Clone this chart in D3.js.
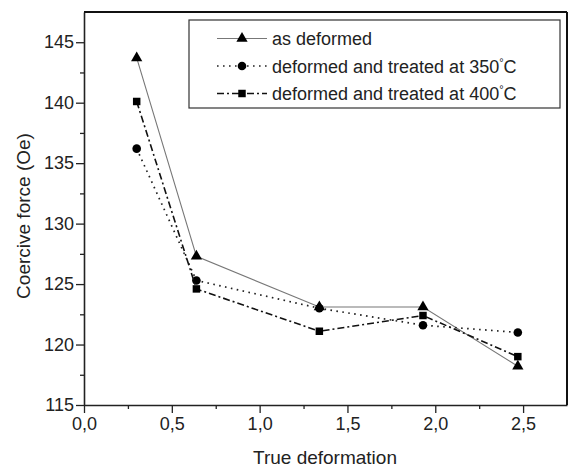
<!DOCTYPE html>
<html>
<head>
<meta charset="utf-8">
<script src="https://cdn.jsdelivr.net/npm/d3@7"></script>
<style>
  body { margin: 0; background: #fff; }
  svg { display: block; }
</style>
</head>
<body>
<div id="vis"></div>
<script>
const FRAME_WIDTH = 569;
const FRAME_HEIGHT = 468;
const MARGINS = {left: 84, right: 2, top: 12, bottom: 63};
const VIS_WIDTH = FRAME_WIDTH - MARGINS.left - MARGINS.right;
const VIS_HEIGHT = FRAME_HEIGHT - MARGINS.top - MARGINS.bottom;
const FONT = "'Liberation Sans', Arial, sans-serif";

// data
const deformation = [0.30, 0.64, 1.34, 1.93, 2.47];
const asDeformed = [143.7, 127.3, 123.1, 123.1, 118.2];
const treated350 = [136.2, 125.3, 123.0, 121.6, 121.0];
const treated400 = [140.1, 124.6, 121.1, 122.4, 119.0];
const seriesNames = ["as deformed", "deformed and treated at 350", "deformed and treated at 400"];
const xTicks = [0, 0.5, 1.0, 1.5, 2.0, 2.5];
const yTicks = [115, 120, 125, 130, 135, 140, 145];

const series = [
  {name: seriesNames[0], deg: false, values: asDeformed, symbol: d3.symbolTriangle, size: 55, dash: null, stroke: "#777", width: 1.1},
  {name: seriesNames[1], deg: true, values: treated350, symbol: d3.symbolCircle, size: 58, dash: "1.6,4.4", stroke: "#222", width: 1.7},
  {name: seriesNames[2], deg: true, values: treated400, symbol: d3.symbolSquare, size: 56, dash: "7,3,2,3", stroke: "#111", width: 1.6}
];

const FRAME = d3.select("#vis")
  .append("svg")
    .attr("width", FRAME_WIDTH)
    .attr("height", FRAME_HEIGHT)
    .style("font-family", FONT);

const X_SCALE = d3.scaleLinear().domain([0, 2.75]).range([0, VIS_WIDTH]);
const Y_SCALE = d3.scaleLinear().domain([115, 147.5]).range([VIS_HEIGHT, 0]);

const plot = FRAME.append("g")
  .attr("transform", "translate(" + MARGINS.left + "," + MARGINS.top + ")");

const comma = d => d3.format(".1f")(d).replace(".", ",");

// minor ticks
plot.append("g")
  .attr("transform", "translate(0," + VIS_HEIGHT + ")")
  .call(d3.axisBottom(X_SCALE).tickValues(d3.range(0.25, 2.75, 0.5)).tickSize(4).tickFormat(""))
  .call(g => g.select(".domain").remove())
  .selectAll("line").attr("stroke", "#222").attr("stroke-width", 1.3);

plot.append("g")
  .call(d3.axisLeft(Y_SCALE).tickValues(d3.range(117.5, 147.5, 5)).tickSize(4).tickFormat(""))
  .call(g => g.select(".domain").remove())
  .selectAll("line").attr("stroke", "#222").attr("stroke-width", 1.3);

// major axes
const xAxis = plot.append("g")
  .attr("transform", "translate(0," + VIS_HEIGHT + ")")
  .call(d3.axisBottom(X_SCALE).tickValues(xTicks).tickSize(8).tickSizeOuter(0).tickPadding(4).tickFormat(comma));

const yAxis = plot.append("g")
  .call(d3.axisLeft(Y_SCALE).tickValues(yTicks).tickSize(8).tickSizeOuter(0).tickPadding(2));

[xAxis, yAxis].forEach(a => {
  a.attr("font-family", FONT);
  a.selectAll("text").attr("font-size", "18px").attr("fill", "#222");
  a.select(".domain").attr("stroke", "#222").attr("stroke-width", 1.6);
  a.selectAll(".tick line").attr("stroke", "#222").attr("stroke-width", 1.3);
});

// top and right frame lines
plot.append("line")
  .attr("x1", 0).attr("x2", VIS_WIDTH).attr("y1", 0).attr("y2", 0)
  .attr("stroke", "#111").attr("stroke-width", 2);
plot.append("line")
  .attr("x1", VIS_WIDTH).attr("x2", VIS_WIDTH).attr("y1", 0).attr("y2", VIS_HEIGHT)
  .attr("stroke", "#111").attr("stroke-width", 2);

// axis titles
FRAME.append("text")
  .attr("x", 325)
  .attr("y", 464)
  .attr("text-anchor", "middle")
  .attr("font-size", "19px")
  .attr("fill", "#222")
  .text("True deformation");

FRAME.append("text")
  .attr("transform", "translate(30,216) rotate(-90)")
  .attr("text-anchor", "middle")
  .attr("font-size", "19px")
  .attr("fill", "#222")
  .text("Coercive force (Oe)");

// lines and markers
const line = d3.line()
  .x((d, i) => X_SCALE(deformation[i]))
  .y(d => Y_SCALE(d));

series.forEach(s => {
  plot.append("path")
    .datum(s.values)
    .attr("d", line)
    .attr("fill", "none")
    .attr("stroke", s.stroke)
    .attr("stroke-width", s.width)
    .attr("stroke-dasharray", s.dash);

  plot.selectAll(null)
    .data(s.values)
    .enter()
    .append("path")
      .attr("transform", (d, i) => "translate(" + X_SCALE(deformation[i]) + "," + Y_SCALE(d) + ")")
      .attr("d", d3.symbol().type(s.symbol).size(s.size))
      .attr("fill", "#000");
});

// legend
const legend = FRAME.append("g");
legend.append("rect")
  .attr("x", 189).attr("y", 20)
  .attr("width", 371).attr("height", 88)
  .attr("fill", "#fff")
  .attr("stroke", "#333")
  .attr("stroke-width", 1.2);

series.forEach((s, i) => {
  const y = 38.5 + i * 27.5;
  legend.append("line")
    .attr("x1", 217).attr("x2", 267).attr("y1", y).attr("y2", y)
    .attr("stroke", s.stroke)
    .attr("stroke-width", s.width)
    .attr("stroke-dasharray", s.dash);
  legend.append("path")
    .attr("transform", "translate(242," + y + ")")
    .attr("d", d3.symbol().type(s.symbol).size(s.size))
    .attr("fill", "#000");
  const t = legend.append("text")
    .attr("x", 272).attr("y", y + 6.5)
    .attr("font-size", "18px")
    .attr("fill", "#222")
    .text(s.name);
  if (s.deg) {
    t.append("tspan").attr("dy", -7).attr("font-size", "11px").text("\u00B0");
    t.append("tspan").attr("dy", 7).text("C");
  }
});
</script>
</body>
</html>
